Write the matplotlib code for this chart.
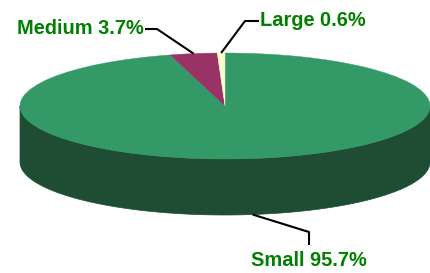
import numpy as np
import matplotlib.pyplot as plt
from matplotlib.patches import Wedge, Polygon
from matplotlib.transforms import Affine2D

labels = ['Small', 'Medium', 'Large']
shares = [95.7, 3.7, 0.6]
colors = ['#339966', '#993366', '#ffffcc']
side_colors = ['#1e4d33', '#4d1a33', '#808066']

# ellipse geometry in pixels (axes use pixel coords, y downwards)
cx, cy, rx, ry, depth = 225, 106, 205, 53, 56

fig = plt.figure(figsize=(4.3, 2.73), dpi=100)
ax = fig.add_axes([0, 0, 1, 1])
ax.set_xlim(0, 430)
ax.set_ylim(273, 0)
ax.axis('off')

frac = np.array(shares) / sum(shares)
ends = 90 - 360 * np.cumsum(frac)
starts = np.concatenate([[90], ends[:-1]])

# side of the cake (front half only)
for s, e, sc in zip(starts, ends, side_colors):
    lo, hi = e % 360, (e % 360) + (s - e)
    for off in (0, 360):
        a, b = max(lo, 180 + off), min(hi, 360 + off)
        if b > a:
            t = np.radians(np.linspace(a, b, 200))
            x = cx + rx * np.cos(t)
            y = cy - ry * np.sin(t)
            pts = np.column_stack([np.concatenate([x, x[::-1]]),
                                   np.concatenate([y, y[::-1] + depth])])
            ax.add_patch(Polygon(pts, closed=True, facecolor=sc, edgecolor=sc, lw=0.5))

# top face
tr = Affine2D().scale(rx, -ry).translate(cx, cy) + ax.transData
for s, e, c in zip(starts, ends, colors):
    ax.add_patch(Wedge((0, 0), 1, e, s, facecolor=c, edgecolor=c, lw=0.3, transform=tr))

# labels with leader lines
mids = np.radians((starts + ends) / 2)
anchor = [(cx + rx * np.cos(m), cy - ry * np.sin(m)) for m in mids]
ax_, ay_ = anchor[0]
anchor[0] = (ax_, ay_ + depth)

label_kw = dict(color='#008000', fontsize=14.4, fontweight='bold',
                family=['Liberation Sans', 'DejaVu Sans'], va='center')
# Small
x0, y0 = anchor[0]
ax.plot([x0, 309, 309], [y0, 232, 245], color='black', lw=1.5, solid_capstyle='butt')
ax.text(251, 261, f'{labels[0]} {shares[0]}%', ha='left', **label_kw)
# Medium
x1, y1 = anchor[1]
ax.plot([145, 157, x1], [29, 29, y1], color='black', lw=1.5, solid_capstyle='butt')
ax.text(144, 28, f'{labels[1]} {shares[1]}%', ha='right', **label_kw)
# Large
x2, y2 = anchor[2]
ax.plot([259, 245, x2], [21, 21, y2], color='black', lw=1.5, solid_capstyle='butt')
ax.text(260, 20, f'{labels[2]} {shares[2]}%', ha='left', **label_kw)

fig.savefig('out.png', dpi=100)
